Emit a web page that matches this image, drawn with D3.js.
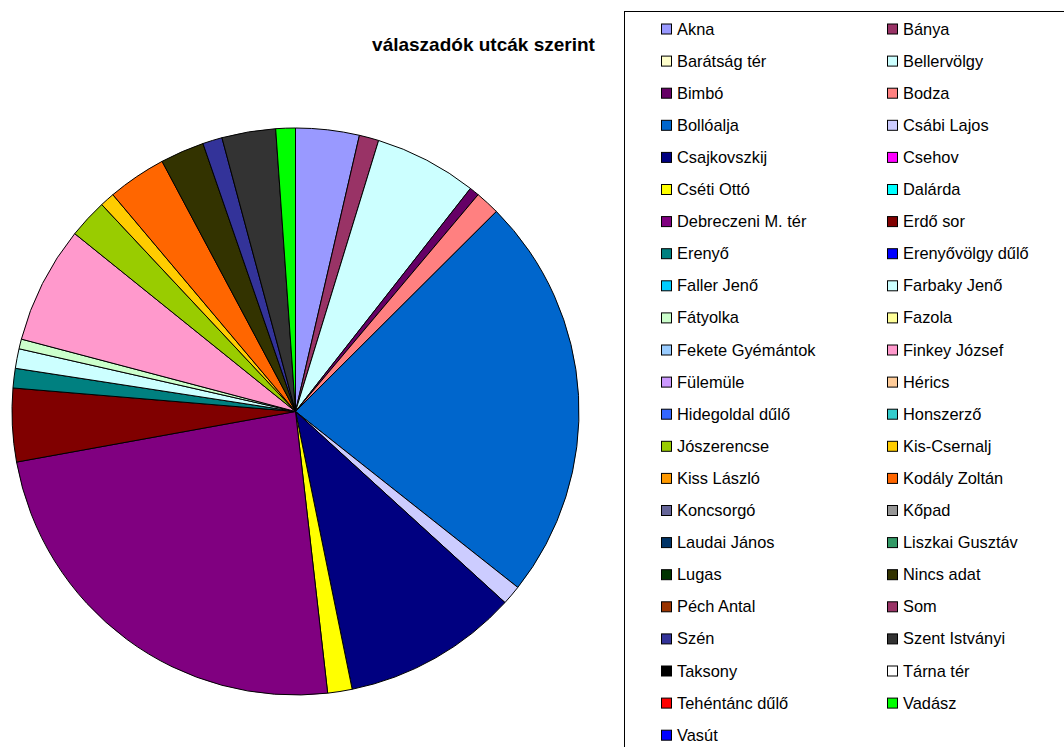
<!DOCTYPE html>
<html lang="hu">
<head>
<meta charset="UTF-8" />
<title>válaszadók utcák szerint</title>
<style>
  body { margin: 0; background: #fff; font-family: Arial, "Liberation Sans", sans-serif; }
  svg { display: block; }
  .slice { stroke: #000; stroke-width: 1px; }
  .legend text { font-size: 16.4px; fill: #000; }
  .swatch { stroke: #000; stroke-width: 1px; }
</style>
<script src="https://d3js.org/d3.v7.min.js"></script>
</head>
<body>
<svg id="chart" width="1064" height="747"></svg>
<script>
// utcák (legend order)
const streets = [
  "Akna", "Bánya", "Barátság tér", "Bellervölgy", "Bimbó", "Bodza",
  "Bollóalja", "Csábi Lajos", "Csajkovszkij", "Csehov", "Cséti Ottó", "Dalárda",
  "Debreczeni M. tér", "Erdő sor", "Erenyő", "Erenyővölgy dűlő", "Faller Jenő", "Farbaky Jenő",
  "Fátyolka", "Fazola", "Fekete Gyémántok", "Finkey József", "Fülemüle", "Hérics",
  "Hidegoldal dűlő", "Honszerző", "Jószerencse", "Kis-Csernalj", "Kiss László", "Kodály Zoltán",
  "Koncsorgó", "Kőpad", "Laudai János", "Liszkai Gusztáv", "Lugas", "Nincs adat",
  "Péch Antal", "Som", "Szén", "Szent Istványi", "Taksony", "Tárna tér",
  "Tehéntánc dűlő", "Vadász", "Vasút"
];

// válaszadók száma
const counts = [
  13, 4, 0, 21, 2, 5,
  83, 4, 36, 0, 5, 0,
  86, 15, 4, 0, 0, 4,
  2, 0, 0, 24, 0, 0,
  0, 0, 8, 3, 0, 12,
  0, 0, 0, 0, 0, 9,
  0, 0, 4, 11, 0, 0,
  0, 4, 0
];

const colors = [
  "#9999FF", "#993366", "#FFFFCC", "#CCFFFF", "#660066", "#FF8080",
  "#0066CC", "#CCCCFF", "#000080", "#FF00FF", "#FFFF00", "#00FFFF",
  "#800080", "#800000", "#008080", "#0000FF", "#00CCFF", "#CCFFFF",
  "#CCFFCC", "#FFFF99", "#99CCFF", "#FF99CC", "#CC99FF", "#FFCC99",
  "#3366FF", "#33CCCC", "#99CC00", "#FFCC00", "#FF9900", "#FF6600",
  "#666699", "#969696", "#003366", "#339966", "#003300", "#333300",
  "#993300", "#993366", "#333399", "#333333", "#000000", "#FFFFFF",
  "#FF0000", "#00FF00", "#0000FF"
];

const title = "válaszadók utcák szerint";

const svg = d3.select("#chart");
const data = streets.map((s, i) => ({ name: s, value: counts[i], color: colors[i] }));

// ---- pie ----
const cx = 295.5, cy = 411.5, radius = 283.5;
const pie = d3.pie().sort(null).value(d => d.value);
const arc = d3.arc().innerRadius(0).outerRadius(radius);

const g = svg.append("g").attr("transform", `translate(${cx},${cy})`);
g.selectAll("path.slice")
  .data(pie(data).filter(d => d.data.value > 0))
  .enter()
  .append("path")
  .attr("class", "slice")
  .attr("fill", d => d.data.color)
  .attr("d", arc);

// ---- title ----
svg.append("text")
  .attr("x", 483.5)
  .attr("y", 51)
  .attr("text-anchor", "middle")
  .attr("font-size", "19px")
  .attr("font-weight", "bold")
  .text(title);

// ---- legend ----
const legend = svg.append("g").attr("class", "legend");
legend.append("rect")
  .attr("x", 624.5).attr("y", 11.5)
  .attr("width", 460).attr("height", 760)
  .attr("fill", "#fff").attr("stroke", "#000").attr("stroke-width", 1);

const colX = d3.scaleOrdinal().domain([0, 1]).range([661, 887]);
const rowY = d3.scaleLinear().domain([0, 1]).range([28.5, 60.6]);

const item = legend.selectAll("g.item")
  .data(data)
  .enter()
  .append("g")
  .attr("class", "item")
  .attr("transform", (d, i) => `translate(${colX(i % 2)},${rowY(Math.floor(i / 2))})`);

item.append("rect")
  .attr("class", "swatch")
  .attr("x", 0.5).attr("y", -4.5)
  .attr("width", 10).attr("height", 10)
  .attr("fill", d => d.color);

item.append("text")
  .attr("x", 16)
  .attr("y", 6)
  .text(d => d.name);
</script>
</body>
</html>
